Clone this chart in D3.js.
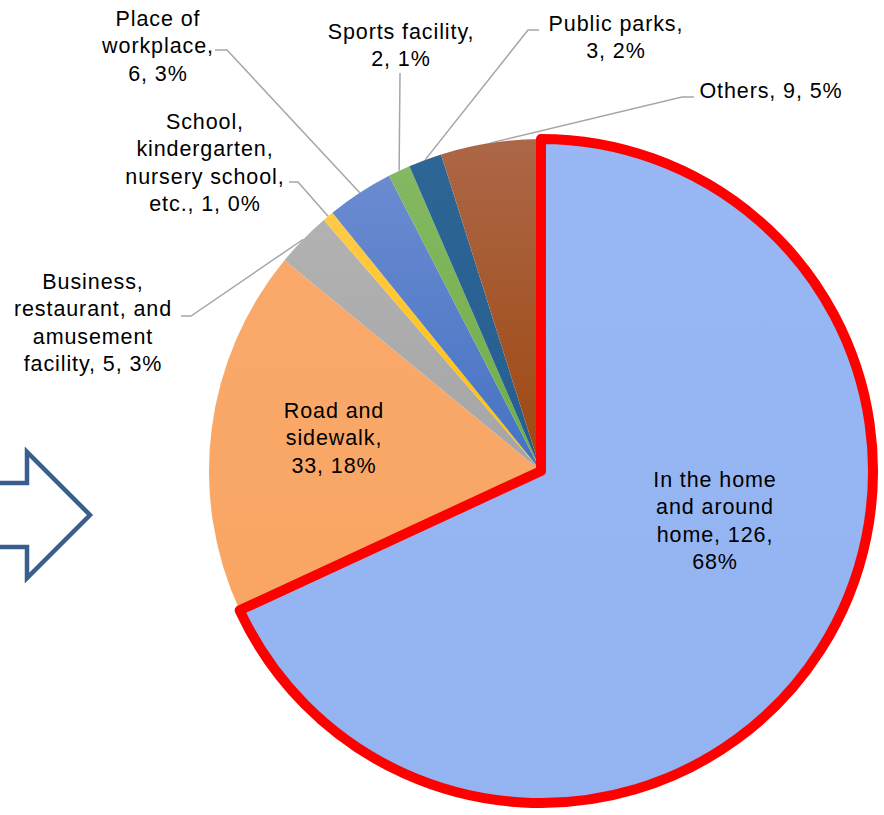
<!DOCTYPE html>
<html>
<head>
<meta charset="utf-8">
<script src="https://cdn.jsdelivr.net/npm/d3@7"></script>
<style>
body { margin: 0; background: #fff; }
svg { display: block; }
text { font-family: "Liberation Sans", Arial, sans-serif; font-size: 21.5px; fill: #000; letter-spacing: 0.9px; }
</style>
</head>
<body>
<svg id="chart" width="884" height="815"></svg>
<script>
// data
var categories = ["In the home and around home", "Road and sidewalk", "Business, restaurant, and amusement facility",
	"School, kindergarten, nursery school, etc.", "Place of workplace", "Sports facility", "Public parks", "Others"];
var values = [126, 33, 5, 1, 6, 2, 3, 9];
var percents = ["68%", "18%", "3%", "0%", "3%", "1%", "2%", "5%"];
var labelLines = [
	["In the home", "and around", "home, 126,", "68%"],
	["Road and", "sidewalk,", "33, 18%"],
	["Business,", "restaurant, and", "amusement", "facility, 5, 3%"],
	["School,", "kindergarten,", "nursery school,", "etc., 1, 0%"],
	["Place of", "workplace,", "6, 3%"],
	["Sports facility,", "2, 1%"],
	["Public parks,", "3, 2%"],
	["Others, 9, 5%"]
];
var topColors = ["#98b7f4", "#f9a96b", "#b2b2b2", "#ffca4a", "#6b8bd0", "#84b862", "#2d6594", "#ac6748"];
var baseColors = ["#93b3f1", "#f9a664", "#a5a5a5", "#ffc000", "#4472c4", "#70ad47", "#255e91", "#9e480e"];

// layout
var cx = 541, cy = 471, r = 332;
var labelPos = [
	{x: 715, y: 479, lead: null},
	{x: 334, y: 410, lead: null},
	{x: 93, y: 281, lead: [[181, 316], [191, 316]]},
	{x: 205, y: 121, lead: [[289, 182], [298, 182]]},
	{x: 158, y: 18, lead: [[215, 50], [227, 50]]},
	{x: 401, y: 31, lead: [[400, 73]]},
	{x: 616, y: 23, lead: [[539, 30], [528, 30]]},
	{x: 771, y: 90, lead: [[694, 97], [682, 97]]}
];
var lineH = 27.5;

var svg = d3.select("#chart");
var defs = svg.append("defs");

// arrow on the left
svg.append("path")
	.attr("d", "M-10 483 H27 V452 L90 515 L27 578 V547 H-10")
	.attr("fill", "#fff")
	.attr("stroke", "#3b5f8d")
	.attr("stroke-width", 4.5);

var pie = d3.pie().sort(null).value(function(d) { return d; });
var arcs = pie(values);
var arc = d3.arc().innerRadius(0).outerRadius(r);

arcs.forEach(function(d, i) {
	var g = defs.append("linearGradient")
		.attr("id", "grad" + i)
		.attr("x1", 0).attr("y1", 0).attr("x2", 0).attr("y2", 1);
	g.append("stop").attr("offset", "0%").attr("stop-color", topColors[i]);
	g.append("stop").attr("offset", "100%").attr("stop-color", baseColors[i]);
});

var pieG = svg.append("g").attr("transform", "translate(" + cx + "," + cy + ")");

pieG.selectAll("path.slice")
	.data(arcs)
	.enter()
	.append("path")
	.attr("class", "slice")
	.attr("d", arc)
	.attr("fill", function(d, i) { return "url(#grad" + i + ")"; });

// red outline round the biggest slice
pieG.append("path")
	.attr("d", arc(arcs[0]))
	.attr("fill", "none")
	.attr("stroke", "#ff0000")
	.attr("stroke-width", 10)
	.attr("stroke-linejoin", "round");

// leader lines
arcs.forEach(function(d, i) {
	var lp = labelPos[i];
	if (!lp.lead) return;
	var mid = (d.startAngle + d.endAngle) / 2;
	var edge = [cx + r * Math.sin(mid), cy - r * Math.cos(mid)];
	var pts = lp.lead.concat([edge]);
	svg.append("path")
		.attr("d", d3.line()(pts))
		.attr("fill", "none")
		.attr("stroke", "#a6a6a6")
		.attr("stroke-width", 1.5);
});

// labels
labelLines.forEach(function(lines, i) {
	var lp = labelPos[i];
	var t = svg.append("text")
		.attr("text-anchor", "middle");
	lines.forEach(function(s, j) {
		t.append("tspan")
			.attr("x", lp.x)
			.attr("y", lp.y + j * lineH)
			.attr("dy", "0.36em")
			.text(s);
	});
});
</script>
</body>
</html>
